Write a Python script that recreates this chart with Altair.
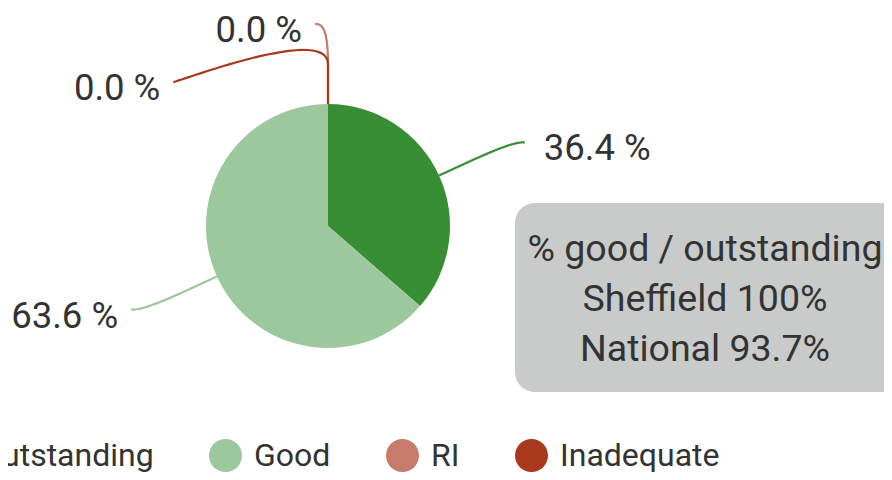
import math
import altair as alt
import pandas as pd

# ---- data ----
categories = ["Outstanding", "Good", "RI", "Inadequate"]
values = [36.4, 63.6, 0.0, 0.0]
colors = ["#388e34", "#9dc79d", "#c67b6b", "#a8391c"]
box_lines = ["% good / outstanding", "Sheffield 100%", "National 93.7%"]

# ---- layout (styling) ----
W, H = 876, 464
CX, CY, R = 320, 218, 122
LABEL_R = 202
BREAK_OFF = 40
FONT = "Roboto"
TXT = "#333333"

# pie slices table
pie_df = pd.DataFrame({"cat": categories, "value": values, "idx": range(len(categories))})

# Highcharts-like data label / connector layout, derived from the slice angles
total = sum(values)
cum = 0.0
slices = []
for i, (c, v) in enumerate(zip(categories, values)):
    a0 = cum / total * 2 * math.pi
    cum += v
    a1 = cum / total * 2 * math.pi
    mid = (a0 + a1) / 2
    side = 1 if math.sin(mid) > 1e-9 else -1
    ny = CY - LABEL_R * math.cos(mid)
    slices.append(dict(i=i, cat=c, v=v, mid=mid, side=side, y=ny, col=colors[i]))

for s in (1, -1):
    grp = sorted([d for d in slices if d["side"] == s], key=lambda d: (d["y"], d["i"]))
    prev = None
    for d in grp:
        if prev is not None and d["y"] < prev + 58:
            d["y"] = prev + 58
        prev = d["y"]

line_rows = []
label_rows = []
for d in slices:
    mid, side, ly = d["mid"], d["side"], d["y"]
    dy = ly - CY
    xe = CX + side * (math.sqrt(max(LABEL_R ** 2 - dy ** 2, 0)) + 13)
    tx, ty = CX + R * math.sin(mid), CY - R * math.cos(mid)
    bx, by = CX + (R + BREAK_OFF) * math.sin(mid), CY - (R + BREAK_OFF) * math.cos(mid)
    p0 = (xe, ly)
    p1 = (xe - side * 5, ly)
    p2 = (2 * bx - tx, 2 * by - ty)
    p3 = (bx, by)
    n = 30
    for k in range(n + 1):
        t = k / n
        x = ((1 - t) ** 3) * p0[0] + 3 * ((1 - t) ** 2) * t * p1[0] + 3 * (1 - t) * t * t * p2[0] + t ** 3 * p3[0]
        y = ((1 - t) ** 3) * p0[1] + 3 * ((1 - t) ** 2) * t * p1[1] + 3 * (1 - t) * t * t * p2[1] + t ** 3 * p3[1]
        line_rows.append(dict(cat=d["cat"], col=d["col"], seq=k, x=x, y=y))
    line_rows.append(dict(cat=d["cat"], col=d["col"], seq=n + 1, x=tx, y=ty))
    label_rows.append(dict(cat=d["cat"], label=f"{d['v']:.1f} %",
                           x=xe + (19 if side > 0 else -13), y=ly + 18,
                           side="right" if side > 0 else "left"))

lines_df = pd.DataFrame(line_rows)
labels_df = pd.DataFrame(label_rows)

xs = alt.Scale(domain=[0, W], nice=False, zero=False)
ys = alt.Scale(domain=[0, H], nice=False, zero=False, reverse=True)

pie = alt.Chart(pie_df).mark_arc(outerRadius=R).encode(
    theta=alt.Theta("value:Q", stack=True),
    order=alt.Order("idx:Q"),
    color=alt.Color(
        "cat:N",
        scale=alt.Scale(domain=categories, range=colors),
        sort=categories,
        legend=alt.Legend(
            orient="none", legendX=-73, legendY=431, direction="horizontal",
            columns=4, title=None, symbolType="circle", symbolSize=1089,
            symbolStrokeWidth=0, symbolOpacity=1, labelFontSize=32,
            labelFont=FONT, labelColor=TXT, labelOffset=12, columnPadding=55,
            labelLimit=0,
        ),
    ),
    x=alt.value(CX),
    y=alt.value(CY),
)

connectors = alt.Chart(lines_df).mark_line(strokeWidth=2.2, interpolate="linear").encode(
    x=alt.X("x:Q", scale=xs, axis=None),
    y=alt.Y("y:Q", scale=ys, axis=None),
    stroke=alt.Stroke("col:N", scale=None),
    detail="cat:N",
    order=alt.Order("seq:Q"),
)

lab_right = alt.Chart(labels_df).transform_filter(alt.datum.side == "right").mark_text(
    align="left", baseline="alphabetic", font=FONT, fontSize=36.5, color=TXT
).encode(x=alt.X("x:Q", scale=xs, axis=None), y=alt.Y("y:Q", scale=ys, axis=None), text="label:N")

lab_left = alt.Chart(labels_df).transform_filter(alt.datum.side == "left").mark_text(
    align="right", baseline="alphabetic", font=FONT, fontSize=36.5, color=TXT
).encode(x=alt.X("x:Q", scale=xs, axis=None), y=alt.Y("y:Q", scale=ys, axis=None), text="label:N")

box_df = pd.DataFrame({"box": [0]})
box = alt.Chart(box_df).mark_rect(cornerRadius=20, color="#c9caca").encode(
    x=alt.value(507), x2=alt.value(893), y=alt.value(195), y2=alt.value(384)
)
box_text = alt.Chart(box_df).mark_text(
    text=box_lines, align="center", baseline="alphabetic", lineHeight=50,
    font=FONT, fontSize=37.5, color=TXT,
).encode(x=alt.value(697), y=alt.value(253))

chart = alt.layer(box, box_text, connectors, pie, lab_right, lab_left).properties(
    width=W, height=H, autosize=alt.AutoSizeParams(type="none"), padding=0,
    background="white",
).configure_view(stroke=None)

chart.save("out.html", embed_options={"renderer": "svg", "actions": False})
